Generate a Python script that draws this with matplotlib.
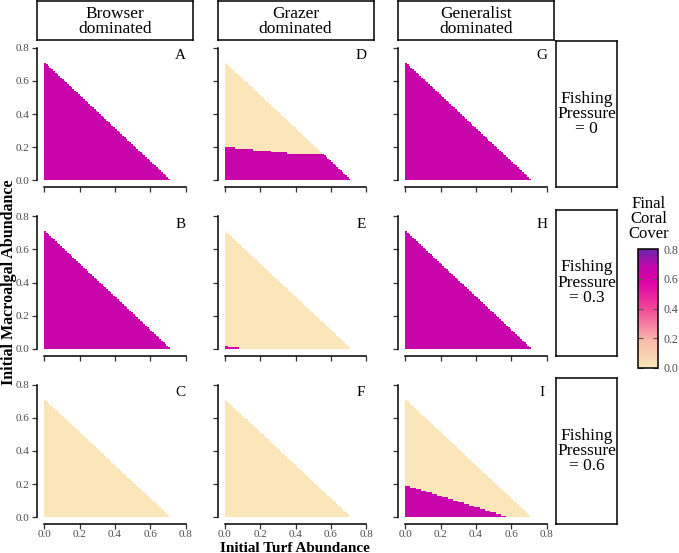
import numpy as np
import matplotlib.pyplot as plt
from matplotlib.colors import LinearSegmentedColormap, Normalize
from matplotlib.cm import ScalarMappable

plt.rcParams['font.family'] = ['Liberation Serif', 'DejaVu Serif']

# ---- data ----
STEP = 0.01
TOTAL_MAX = 0.70          # turf + macroalgae never exceeds this
col_labels = ['Browser\ndominated', 'Grazer\ndominated', 'Generalist\ndominated']
row_labels = ['Fishing\nPressure\n= 0', 'Fishing\nPressure\n= 0.3', 'Fishing\nPressure\n= 0.6']
panel_letters = [['A', 'D', 'G'], ['B', 'E', 'H'], ['C', 'F', 'I']]

# coral-persisting region: macroalgae below "top" for turf >= each step start
full_starts = [0.00]
full_tops = [0.71]
none_starts = [0.00]
none_tops = [0.00]
D_starts = [0.00, 0.06, 0.16, 0.26, 0.35]
D_tops = [0.20, 0.19, 0.18, 0.17, 0.16]
E_starts = [0.00, 0.02, 0.08]
E_tops = [0.02, 0.01, 0.00]
I_starts = [0.00, 0.03, 0.06, 0.09, 0.12, 0.15, 0.18, 0.21, 0.24, 0.27,
            0.30, 0.33, 0.36, 0.39, 0.42, 0.45, 0.48, 0.51, 0.54, 0.57]
I_tops = [0.19, 0.18, 0.17, 0.16, 0.15, 0.14, 0.13, 0.12, 0.11, 0.10,
          0.09, 0.08, 0.07, 0.06, 0.05, 0.04, 0.03, 0.02, 0.01, 0.00]

# final coral cover inside / outside that region
high_cover = [[0.66, 0.66, 0.66], [0.66, 0.60, 0.66], [0.66, 0.66, 0.66]]
low_cover = [[0.0, 0.0, 0.0], [0.0, 0.0, 0.0], [0.0, 0.0, 0.0]]
regions = [[(full_starts, full_tops), (D_starts, D_tops), (full_starts, full_tops)],
           [(full_starts, full_tops), (E_starts, E_tops), (full_starts, full_tops)],
           [(none_starts, none_tops), (none_starts, none_tops), (I_starts, I_tops)]]

cmap = LinearSegmentedColormap.from_list(
    'coral', [(0.0, '#FAE6B9'), (0.22, '#F9BDAA'), (0.5, '#F3479A'),
              (0.72, '#E000A8'), (0.85, '#C206AA'), (1.0, '#6E24AC')])
norm = Normalize(0.0, 0.8)


def build_grid(starts, tops, hi, lo):
    edges = np.round(np.arange(0, TOTAL_MAX + 2 * STEP, STEP), 2)
    cells = edges[:-1]
    Z = np.full((len(cells), len(cells)), np.nan)
    for i, m in enumerate(cells):
        for j, t in enumerate(cells):
            if round(t + m, 2) > TOTAL_MAX:
                continue
            k = np.searchsorted(starts, t + 1e-9) - 1
            top = tops[k]
            Z[i, j] = hi if m + STEP <= top + 1e-9 else lo
    return edges, np.ma.masked_invalid(Z)


W, H = 679, 553
fig = plt.figure(figsize=(W / 100, H / 100), dpi=100)


def px(l, t, r, b):
    return [l / W, 1 - b / H, (r - l) / W, (b - t) / H]


lefts = [37, 217.5, 398]
tops_px = [41, 209.5, 378]
pw, ph = 156, 146
ticks = [0.0, 0.2, 0.4, 0.6, 0.8]
tick_col = '#4D4D4D'

for r in range(3):
    for c in range(3):
        ax = fig.add_axes(px(lefts[c], tops_px[r], lefts[c] + pw, tops_px[r] + ph))
        starts, tps = regions[r][c]
        edges, Z = build_grid(starts, tps, high_cover[r][c], low_cover[r][c])
        ax.pcolormesh(edges, edges, Z, cmap=cmap, norm=norm, shading='flat',
                      edgecolors='none', antialiased=False)
        ax.set_xlim(-0.04, 0.84)
        ax.set_ylim(-0.04, 0.84)
        for s in ['top', 'right']:
            ax.spines[s].set_visible(False)
        for s in ['left', 'bottom']:
            ax.spines[s].set_linewidth(1.1)
            ax.spines[s].set_color('black')
        ax.spines['left'].set_bounds(0, 0.8)
        ax.spines['bottom'].set_bounds(0, 0.8)
        ax.set_xticks(ticks)
        ax.set_yticks(ticks)
        ax.tick_params(length=3.5, width=0.9, color='#333333', labelsize=8,
                       labelcolor=tick_col)
        ax.tick_params(axis='x', pad=0.5)
        ax.tick_params(axis='y', pad=2)
        if c == 0:
            ax.set_yticklabels([f'{v:.1f}' for v in ticks])
        else:
            ax.set_yticklabels([])
        if r == 2:
            ax.set_xticklabels([f'{v:.1f}' for v in ticks])
        else:
            ax.set_xticklabels([])
        ax.text(0.77, 0.75, panel_letters[r][c], ha='center', va='center',
                fontsize=11, color='black')
        ax.patch.set_alpha(0)

# column strips
for c in range(3):
    sa = fig.add_axes(px(lefts[c], 1, lefts[c] + pw, 40))
    sa.set_xticks([]); sa.set_yticks([])
    for s in sa.spines.values():
        s.set_linewidth(1.1)
    sa.text(0.5, 0.47, col_labels[c], ha='center', va='center', fontsize=12.5,
            linespacing=0.95, transform=sa.transAxes)

# row strips
for r in range(3):
    sa = fig.add_axes(px(556, tops_px[r], 617, tops_px[r] + ph))
    sa.set_xticks([]); sa.set_yticks([])
    for s in sa.spines.values():
        s.set_linewidth(1.1)
    sa.text(0.5, 0.5, row_labels[r], ha='center', va='center', fontsize=12.5,
            linespacing=0.95, transform=sa.transAxes)

# axis titles
fig.text(295 / W, 1 - 551.5 / H, 'Initial Turf Abundance', ha='center', va='baseline',
         fontsize=11, fontweight='bold')
fig.text(9 / W, 1 - 282 / H, 'Initial Macroalgal Abundance', ha='center', va='center',
         rotation=90, fontsize=11.5, fontweight='bold')

# colorbar
cax = fig.add_axes(px(638, 249, 658, 368))
cb = fig.colorbar(ScalarMappable(norm=norm, cmap=cmap), cax=cax, ticks=ticks)
cb.ax.set_yticklabels([f'{v:.1f}' for v in ticks])
cb.ax.tick_params(direction='in', length=3.5, width=0.8, color='#555555',
                  left=True, right=True, labelsize=8.5, labelcolor=tick_col, pad=4)
cb.outline.set_linewidth(1.1)
fig.text(649 / W, 1 - 219 / H, 'Final\nCoral\nCover', ha='center', va='center',
         fontsize=12, linespacing=0.95)

fig.savefig('out.png', dpi=100)
